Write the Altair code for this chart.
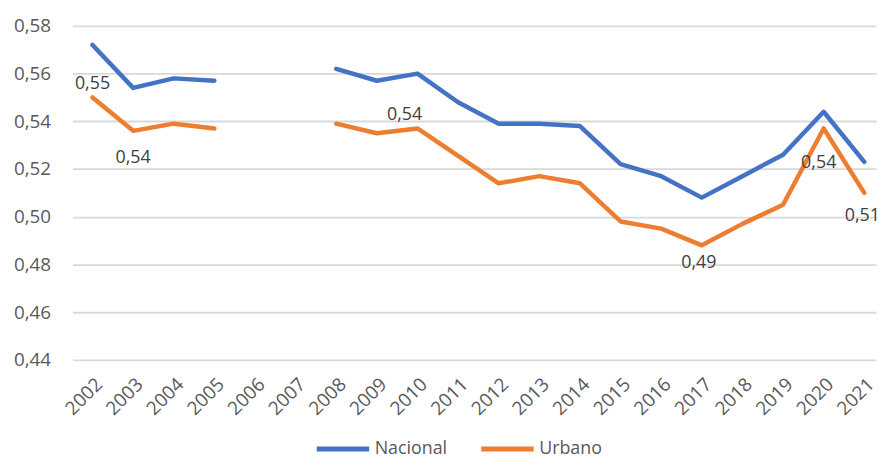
import altair as alt
import pandas as pd

# ---- data ----
years = list(range(2002, 2022))
series = ["Nacional", "Urbano"]
nacional = [0.572, 0.554, 0.558, 0.557, None, None, 0.562, 0.557, 0.560, 0.548,
            0.539, 0.539, 0.538, 0.522, 0.517, 0.508, 0.517, 0.526, 0.544, 0.523]
urbano = [0.550, 0.536, 0.539, 0.537, None, None, 0.539, 0.535, 0.537, 0.5255,
          0.514, 0.517, 0.514, 0.498, 0.495, 0.488, 0.497, 0.505, 0.537, 0.510]
y_ticks = [0.44, 0.46, 0.48, 0.50, 0.52, 0.54, 0.56, 0.58]
labeled_years = [2002, 2003, 2010, 2017, 2020, 2021]  # Urbano data labels

rows = []
for i, yr in enumerate(years):
    rows.append({"year": yr, "serie": "Nacional", "value": nacional[i]})
    rows.append({"year": yr, "serie": "Urbano", "value": urbano[i]})
df = pd.DataFrame(rows)

# ---- styling ----
FONT = "Open Sans"
colors = ["#4472C4", "#ED7D31"]
# label placement (dx, dy) per labeled year
label_pos = {2002: (0, -14), 2003: (0, 27), 2010: (-13, -14),
             2017: (-3, 18), 2020: (-5, 35), 2021: (-2, 23)}

fmt_expr = "replace(format(datum.value, '.2f'), '.', ',')"

x_enc = alt.X("year:Q",
              scale=alt.Scale(domain=[2001.505, 2021.29], nice=False, zero=False),
              axis=alt.Axis(values=years, format="d", labelAngle=-45, grid=False,
                            domain=False, ticks=False, labelPadding=15,
                            labelAlign="right", labelBaseline="top",
                            labelFontSize=19, labelColor="#595959", labelFont=FONT,
                            labelOverlap=False, title=None))
y_enc = alt.Y("value:Q",
              scale=alt.Scale(domain=[0.44, 0.58], nice=False, zero=False),
              axis=alt.Axis(values=y_ticks, labelExpr=fmt_expr, grid=True,
                            gridColor="#D9D9D9", gridWidth=1.8, domain=False,
                            ticks=False, labelPadding=22, labelFontSize=19,
                            labelColor="#595959", labelFont=FONT, title=None))

base = alt.Chart(df)

lines = base.mark_line(strokeWidth=4.5, strokeCap="round", strokeJoin="round",
                       invalid="break-paths-show-domains").encode(
    x=x_enc, y=y_enc,
    color=alt.Color("serie:N",
                    scale=alt.Scale(domain=series, range=colors),
                    legend=alt.Legend(title=None, orient="none", direction="horizontal",
                                      legendX=244, legendY=398,
                                      symbolType="stroke", symbolSize=2800,
                                      symbolStrokeWidth=5, labelFontSize=18,
                                      labelFont=FONT, labelColor="#595959",
                                      labelOffset=3, columnPadding=23)),
)

layers = [lines]
for yr in labeled_years:
    dx, dy = label_pos[yr]
    layers.append(
        base.transform_filter(
            (alt.datum.serie == "Urbano") & (alt.datum.year == yr)
        ).transform_calculate(
            label="replace(format(datum.value, '.2f'), '.', ',')"
        ).mark_text(dx=dx, dy=dy, fontSize=18, font=FONT, color="#404040",
                    baseline="middle", align="center").encode(
            x=alt.X("year:Q"), y=alt.Y("value:Q"), text="label:N")
    )

chart = alt.layer(*layers).properties(
    width=811, height=337,
    autosize=alt.AutoSizeParams(type="none"),
    padding={"left": 65, "top": 16, "right": 8, "bottom": 94},
).configure_view(stroke=None)

chart.save("out.html", embed_options={"renderer": "svg", "actions": False})
